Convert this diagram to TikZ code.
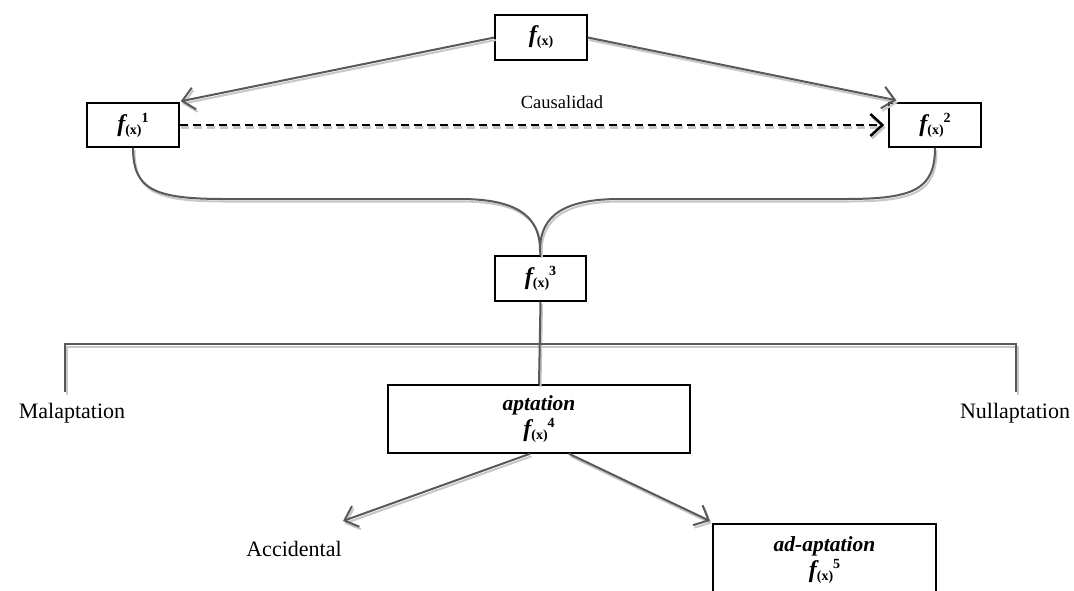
\documentclass[tikz,border=0pt]{standalone}
\usepackage{fontspec}
\setmainfont{Liberation Serif}
\usetikzlibrary{arrows.meta,calc}
\newcommand\fxl[1]{{\fontsize{24}{26}\selectfont\bfseries\itshape f}{\fontsize{14}{14}\selectfont\bfseries\raisebox{-3pt}{(x)}}{\fontsize{14}{14}\selectfont\bfseries\raisebox{9pt}{#1}}}
\begin{document}
\begin{tikzpicture}[x=1pt,y=-1pt,
  box/.style={draw=black, line width=1.5pt, fill=white, inner sep=0pt, align=center},
  conn/.style={draw=black!65, line width=2pt},
  shad/.style={draw=black!22, line width=2pt, transform canvas={shift={(1.5pt,-2.5pt)}}},
  barb/.style={-{Straight Barb[length=12pt,width=22pt]}},
  dashline/.style={draw=black, line width=2.5pt, dash pattern=on 8pt off 5pt},
  lbl/.style={font=\fontsize{22}{24}\selectfont, inner sep=0pt}
]
\useasboundingbox[fill=white] (0,0) rectangle (1074,590);

% boxes
\node[box, minimum width=92pt, minimum height=45pt] (f) at (541,37.5) {\fxl{}};
\node[box, minimum width=92pt, minimum height=44pt] (n1) at (133,125) {\fxl{1}};
\node[box, minimum width=92pt, minimum height=44pt] (n2) at (935,125) {\fxl{2}};
\node[box, minimum width=91pt, minimum height=45pt] (n3) at (540.5,278.5) {\fxl{3}};
\node[box, minimum width=302pt, minimum height=68pt] (apt) at (539,419)
  {{\fontsize{21.5}{24}\selectfont\bfseries\itshape aptation}\\[3pt]\fxl{4}};
\node[box, minimum width=223pt, minimum height=90pt, anchor=north] (adapt) at (824.5,523) {};
\node[align=center, inner sep=0pt] (adapttext) at ($(adapt.north)+(0,37)$)
  {{\fontsize{21.5}{24}\selectfont\bfseries\itshape ad-aptation}\\[3pt]\fxl{5}};

% labels
\node[lbl, font=\fontsize{18.5}{20}\selectfont] (caus) at (562,102) {Causalidad};
\node[lbl] (mal) at (72,413) {Malaptation};
\node[lbl] (null) at (1015,413) {Nullaptation};
\node[lbl] (acc) at (294,549) {Accidental};

% coordinates
\coordinate (bl) at (65,392);
\coordinate (blt) at (65,344);
\coordinate (brt) at (1016,344);
\coordinate (br) at (1016,392);
\coordinate (tip) at (540,250);
\coordinate (acctip) at (343,521);
\coordinate (adtip) at (710,521);

\foreach \s in {shad,conn}{
  % top arrows
  \draw[\s, barb] (f.west) -- ($(n1.north east)+(1,-1)$);
  \draw[\s, barb] (f.east) -- ($(n2.north west)+(8,-2)$);
  % brace
  \draw[\s] (n1.south) .. controls (133,190) and (155,199) .. (225,199) -- (460,199)
     .. controls (515,199) and (540,215) .. (tip);
  \draw[\s] (n2.south) .. controls (935,190) and (913,199) .. (845,199) -- (620,199)
     .. controls (565,199) and (540,215) .. (tip);
  \draw[\s] (tip) -- (n3.north);
  % bracket
  \draw[\s] (bl) -- (blt) -- (brt) -- (br);
  \draw[\s] (n3.south) -- (apt.north);
  % aptation arrows
  \draw[\s, barb] ($(apt.south)+(-9,0)$) -- (acctip);
  \draw[\s, barb] ($(apt.south)+(30,0)$) -- (adtip);
}
% dashed arrow
\draw[dashline, draw=black!22, transform canvas={shift={(1.5pt,-2.5pt)}}, -{Straight Barb[length=12pt,width=22pt]}, shorten >=4pt] (n1.east) -- (n2.west);
\draw[dashline, -{Straight Barb[length=12pt,width=22pt]}, shorten >=4pt] (n1.east) -- (n2.west);
\end{tikzpicture}
\end{document}
